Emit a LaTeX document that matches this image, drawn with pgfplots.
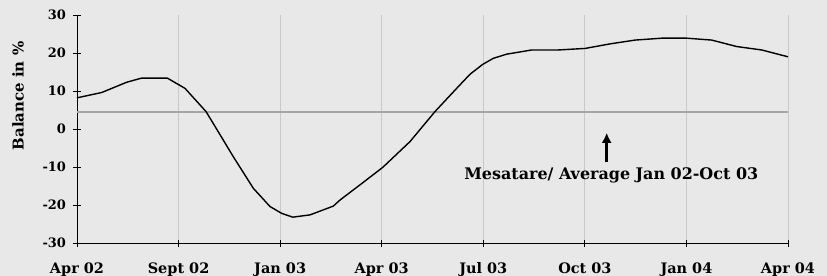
\documentclass[border=0pt]{standalone}
\usepackage{pgfplots}
\pgfplotsset{compat=1.18}
\usepackage{fontspec}
\setmainfont{DejaVu Serif}
\usetikzlibrary{arrows.meta}
\definecolor{bg}{RGB}{232,232,232}
\definecolor{gridc}{RGB}{200,200,200}
\definecolor{avgc}{RGB}{165,165,165}
\begin{document}
\begin{tikzpicture}
\fill[bg] (-77bp,-33bp) rectangle (750bp,243bp);
\begin{axis}[
  scale only axis,
  width=711bp, height=228bp,
  xmin=0, xmax=7, ymin=-30, ymax=30,
  axis lines*=left,
  axis line style={black, line width=0.8bp},
  xtick={0,1,2,3,4,5,6,7},
  xticklabels={Apr 02, Sept 02, Jan 03, Apr 03, Jul 03, Oct 03, Jan 04, Apr 04},
  ytick={-30,-20,-10,0,10,20,30},
  yticklabels={-30,-20,-10,0,10,20,30},
  tick align=center,
  major tick length=7bp,
  tick style={black, line width=0.8bp},
  xmajorgrids,
  major grid style={gridc, line width=0.8bp},
  x tick label style={font=\bfseries\fontsize{14.5}{16}\selectfont, anchor=base, yshift=-27bp},
  y tick label style={font=\bfseries\fontsize{13}{15}\selectfont, xshift=-4bp},
  ylabel={Balance in \%},
  every axis y label/.style={at={(axis description cs:-0.083,0.645)}, rotate=90, anchor=center, font=\bfseries\fontsize{15}{17}\selectfont},
  clip=false,
]
\addplot[avgc, line width=1.6bp] coordinates {(0,4.5) (7,4.5)};
\addplot[black, line width=1.4bp, line join=round] coordinates {
(0.000,8.2) (0.243,9.6) (0.489,12.3) (0.637,13.4) (0.889,13.4) (1.063,10.7)
(1.270,4.6) (1.440,-2.9) (1.539,-7.3) (1.736,-15.6) (1.900,-20.4) (2.015,-22.2)
(2.124,-23.2) (2.294,-22.6) (2.523,-20.3) (2.589,-18.7) (2.786,-14.7) (3.010,-10.1)
(3.279,-3.3) (3.525,4.6) (3.738,10.7) (3.869,14.4) (3.994,17.0) (4.099,18.6)
(4.231,19.7) (4.477,20.8) (4.739,20.8) (5.002,21.2) (5.248,22.4) (5.494,23.4)
(5.757,23.9) (6.003,23.9) (6.249,23.4) (6.495,21.7) (6.741,20.8) (7.000,19.0)
};
\draw[black, line width=2.6bp, -{Latex[length=10bp,width=10bp]}] (axis cs:5.215,-8.6) -- (axis cs:5.215,-1.0);
\node[font=\bfseries\fontsize{16}{18}\selectfont, anchor=base] at (axis cs:5.26,-13.2) {Mesatare/ Average Jan 02-Oct 03};
\end{axis}
\pgfresetboundingbox
\path[use as bounding box] (-77bp,-33bp) rectangle (750bp,243bp);
\end{tikzpicture}
\end{document}
